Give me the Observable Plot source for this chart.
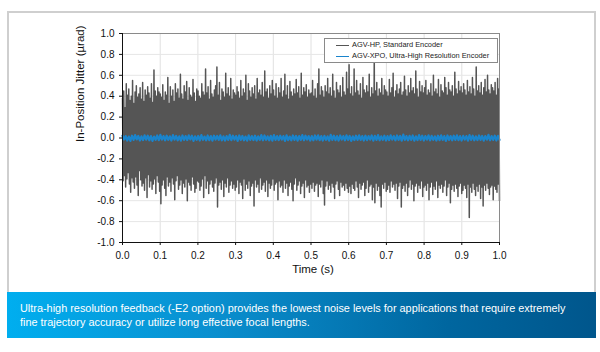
<!DOCTYPE html>
<html><head><meta charset="utf-8">
<script src="https://cdn.jsdelivr.net/npm/d3@7"></script>
<script src="https://cdn.jsdelivr.net/npm/@observablehq/plot@0.6"></script>
<style>
html,body{margin:0;padding:0;background:#fff;}
body{width:600px;height:352px;position:relative;overflow:hidden;font-family:"Liberation Sans",Arial,sans-serif;}
#frame{position:absolute;left:7px;top:11px;width:585px;height:279px;border:2px solid #cfcfcf;border-bottom:none;background:#fff;}
#chart{position:absolute;left:0;top:0;}
#legend{position:absolute;left:324px;top:38px;width:172px;height:23px;border:1px solid #8a8a8a;background:#fff;font-size:7.4px;color:#222;}
#legend .row{position:absolute;left:11px;height:10px;line-height:10px;white-space:nowrap;}
#legend .sw{display:inline-block;width:13px;height:0;vertical-align:middle;margin-right:3px;}
#caption{position:absolute;left:7px;top:292px;width:589px;height:46px;background:linear-gradient(90deg,#00aeef 0%,#0a8fcf 35%,#00669f 75%,#00568c 100%);color:#fff;font-size:10.9px;line-height:14px;box-sizing:border-box;padding:9px 0 0 13px;}
#caption div{white-space:nowrap;}
</style></head>
<body>
<div id="frame"></div>
<div id="chart"></div>
<div id="legend"></div>
<div id="caption"></div>
<script>
const seriesNames = ["AGV-HP, Standard Encoder", "AGV-XPO, Ultra-High Resolution Encoder"];
const seriesColors = ["#555555", "#1a84cc"];
const xTicks = [0,0.1,0.2,0.3,0.4,0.5,0.6,0.7,0.8,0.9,1.0];
const yTicks = [-1,-0.8,-0.6,-0.4,-0.2,0,0.2,0.4,0.6,0.8,1.0];
const xLabel = "Time (s)";
const yLabel = "In-Position Jitter (µrad)";
const captionLines = [
  "Ultra-high resolution feedback (-E2 option) provides the lowest noise levels for applications that require extremely",
  "fine trajectory accuracy or utilize long effective focal lengths."
];

// AGV-HP jitter (µrad), evenly spaced over 0–1 s
const hpJitter = [
.38,-.41,.45,-.36,.29,-.47,.52,-.39,.41,-.33,.47,-.44,.36,-.52,.40,-.38,.55,-.42,.33,-.48,.44,-.37,.50,-.45,.39,-.55,.42,-.31,.48,-.40,.37,-.46,.53,-.43,.35,-.50,.46,-.38,.41,-.57,.49,-.35,.43,-.47,.38,-.41,.52,-.49,.34,-.44,.65,-.39,.45,-.53,.40,-.36,.48,-.42,.44,-.51,
.42,-.63,.39,-.45,.51,-.40,.36,-.48,.44,-.55,.41,-.37,.58,-.46,.33,-.42,.49,-.51,.40,-.38,.46,-.44,.35,-.59,.52,-.41,.43,-.36,.47,-.49,.38,-.45,.61,-.40,.42,-.53,.37,-.43,.50,-.47,.44,-.39,.54,-.60,.36,-.42,.48,-.45,.41,-.50,.39,-.37,.56,-.44,.43,-.52,.35,-.48,.47,-.41,
.45,-.42,.40,-.50,.38,-.46,.52,-.39,.44,-.57,.41,-.36,.66,-.48,.43,-.41,.49,-.53,.37,-.44,.55,-.40,.42,-.47,.39,-.51,.46,-.43,.50,-.38,.68,-.66,.41,-.45,.53,-.42,.36,-.49,.47,-.40,.44,-.56,.39,-.43,.62,-.47,.42,-.38,.48,-.52,.40,-.45,.57,-.41,.37,-.48,.46,-.44,.43,-.50,
.41,-.47,.49,-.40,.44,-.53,.38,-.42,.55,-.45,.40,-.58,.47,-.39,.43,-.50,.60,-.44,.36,-.48,.52,-.41,.45,-.55,.39,-.46,.48,-.43,.42,-.65,.50,-.40,.37,-.47,.57,-.44,.43,-.52,.46,-.38,.41,-.49,.53,-.45,.39,-.42,.64,-.51,.44,-.40,.47,-.56,.38,-.43,.50,-.48,.42,-.45,.55,-.39,
.46,-.50,.40,-.44,.52,-.42,.38,-.59,.48,-.41,.43,-.47,.57,-.45,.39,-.52,.45,-.40,.61,-.48,.41,-.43,.50,-.55,.37,-.46,.54,-.42,.44,-.49,.40,-.60,.47,-.44,.42,-.38,.56,-.50,.43,-.45,.49,-.41,.38,-.53,.62,-.46,.41,-.43,.48,-.57,.44,-.40,.51,-.47,.39,-.45,.46,-.52,.42,-.44,
.43,-.48,.55,-.42,.40,-.51,.47,-.45,.38,-.43,.52,-.56,.66,-.44,.41,-.47,.49,-.40,.45,-.53,.39,-.64,.50,-.46,.44,-.41,.57,-.49,.42,-.45,.48,-.52,.40,-.43,.61,-.47,.45,-.58,.38,-.44,.53,-.41,.46,-.49,.43,-.55,.50,-.42,.39,-.47,.58,-.45,.44,-.50,.41,-.43,.63,-.48,.47,-.52,
.70,-.46,.42,-.53,.49,-.44,.40,-.48,.66,-.50,.43,-.41,.55,-.47,.45,-.57,.41,-.43,.52,-.49,.38,-.45,.58,-.42,.46,-.55,.43,-.48,.50,-.40,.44,-.52,.61,-.46,.39,-.44,.48,-.59,.42,-.47,.78,-.62,.45,-.43,.53,-.50,.40,-.46,.47,-.55,.43,-.66,.57,-.44,.41,-.48,.50,-.42,.46,-.51,
.44,-.49,.40,-.45,.56,-.52,.43,-.41,.48,-.47,.62,-.44,.39,-.50,.45,-.43,.51,-.58,.42,-.46,.47,-.42,.53,-.66,.41,-.48,.44,-.45,.59,-.51,.46,-.43,.40,-.55,.50,-.47,.43,-.40,.57,-.49,.45,-.44,.48,-.60,.42,-.46,.64,-.43,.47,-.52,.39,-.45,.54,-.48,.44,-.41,.50,-.56,.43,-.47,
.48,-.45,.55,-.50,.41,-.43,.46,-.59,.43,-.47,.52,-.42,.40,-.54,.60,-.46,.44,-.49,.47,-.41,.42,-.57,.56,-.45,.39,-.48,.51,-.44,.45,-.52,.43,-.46,.58,-.40,.48,-.55,.41,-.47,.53,-.43,.46,-.62,.44,-.49,.50,-.45,.40,-.51,.63,-.44,.47,-.48,.42,-.56,.54,-.46,.45,-.43,.49,-.53,
.43,-.50,.52,-.45,.46,-.48,.41,-.57,.55,-.44,.44,-.76,.49,-.47,.42,-.52,.58,-.43,.47,-.49,.40,-.55,.68,-.46,.45,-.51,.50,-.44,.43,-.58,.53,-.47,.41,-.65,.48,-.45,.56,-.50,.44,-.43,.60,-.48,.46,-.54,.42,-.47,.51,-.45,.48,-.59,.45,-.46,.53,-.49,.41,-.52,.57,-.44,.47,-.60
];

// AGV-XPO jitter (µrad), evenly spaced over 0–1 s
const xpoJitter = [
.022,-.014,.018,-.024,.014,-.028,.022,-.018,.028,-.014,.020,-.024,.016,-.020,.026,-.016,.022,-.022,.018,-.028,.014,-.018,.024,-.020,.030,-.016,.018,-.022,.022,-.018,
.016,-.024,.028,-.016,.020,-.022,.016,-.026,.024,-.018,.018,-.020,.026,-.014,.022,-.028,.016,-.018,.020,-.024,.028,-.018,.014,-.022,.024,-.020,.018,-.026,.022,-.016,
.020,-.018,.026,-.022,.016,-.024,.018,-.018,.030,-.020,.022,-.016,.018,-.028,.024,-.018,.020,-.022,.014,-.026,.026,-.018,.018,-.020,.022,-.024,.016,-.018,.028,-.022,
.024,-.018,.016,-.022,.020,-.026,.028,-.018,.018,-.020,.022,-.016,.018,-.028,.026,-.020,.014,-.022,.024,-.018,.020,-.026,.018,-.018,.028,-.022,.022,-.016,.018,-.024,
.018,-.022,.024,-.016,.026,-.020,.018,-.024,.020,-.018,.016,-.026,.030,-.018,.022,-.020,.018,-.024,.024,-.016,.018,-.022,.026,-.018,.020,-.028,.016,-.020,.022,-.018,
.026,-.018,.018,-.024,.022,-.020,.018,-.016,.024,-.026,.020,-.018,.028,-.022,.016,-.018,.022,-.024,.018,-.020,.026,-.016,.018,-.022,.024,-.018,.020,-.026,.032,-.018,
.018,-.022,.020,-.018,.024,-.026,.016,-.020,.028,-.018,.022,-.024,.018,-.016,.026,-.022,.020,-.018,.016,-.024,.022,-.020,.026,-.018,.018,-.028,.024,-.018,.018,-.022,
.022,-.018,.026,-.020,.018,-.024,.020,-.016,.018,-.026,.028,-.018,.022,-.022,.016,-.020,.024,-.018,.020,-.026,.018,-.016,.030,-.022,.018,-.018,.022,-.024,.020,-.018
];

const hpData = hpJitter.map((v, i) => ({t: i / (hpJitter.length - 1), v}));
const xpoData = xpoJitter.map((v, i) => ({t: i / (xpoJitter.length - 1), v}));
const fmt = d => d.toFixed(1);

const chart = Plot.plot({
  width: 600,
  height: 292,
  marginLeft: 122,
  marginRight: 101,
  marginTop: 33,
  marginBottom: 50,
  x: {domain: [0, 1]},
  y: {domain: [-1, 1]},
  style: {fontFamily: "'Liberation Sans', Arial, sans-serif", fontSize: "10px", color: "#111", background: "transparent", overflow: "visible"},
  marks: [
    Plot.gridX(xTicks, {stroke: "#e0e0e0", strokeOpacity: 1}),
    Plot.gridY(yTicks, {stroke: "#e6e6e6", strokeOpacity: 1}),
    Plot.line(hpData, {x: "t", y: "v", stroke: seriesColors[0], strokeWidth: 1.5}),
    Plot.line(xpoData, {x: "t", y: "v", stroke: seriesColors[1], strokeWidth: 2.2}),
    Plot.frame({stroke: "#8a8a8a"}),
    Plot.ruleX([0], {stroke: "#111"}),
    Plot.ruleY([-1], {stroke: "#111"}),
    Plot.axisX(xTicks, {tickFormat: fmt, tickSize: 3, tickPadding: 6, label: null, stroke: "#111"}),
    Plot.axisY(yTicks, {tickFormat: fmt, tickSize: 3, tickPadding: 5, label: null, stroke: "#111"}),
    Plot.text([xLabel], {frameAnchor: "bottom", dx: 2, dy: 30, fontSize: 11.5, fill: "#111"}),
    Plot.text([yLabel], {frameAnchor: "left", dx: -42, dy: 4, rotate: -90, fontSize: 11.5, fill: "#111"})
  ]
});
document.getElementById("chart").appendChild(chart);

const legend = document.getElementById("legend");
seriesNames.forEach((name, i) => {
  const row = document.createElement("div");
  row.className = "row";
  row.style.top = (i === 0 ? 1 : 12) + "px";
  const sw = document.createElement("span");
  sw.className = "sw";
  sw.style.borderTop = (i === 0 ? 1.2 : 1.6) + "px solid " + seriesColors[i];
  row.appendChild(sw);
  row.appendChild(document.createTextNode(name));
  legend.appendChild(row);
});
const cap = document.getElementById("caption");
captionLines.forEach(line => {
  const d = document.createElement("div");
  d.textContent = line;
  cap.appendChild(d);
});
</script>
</body></html>
